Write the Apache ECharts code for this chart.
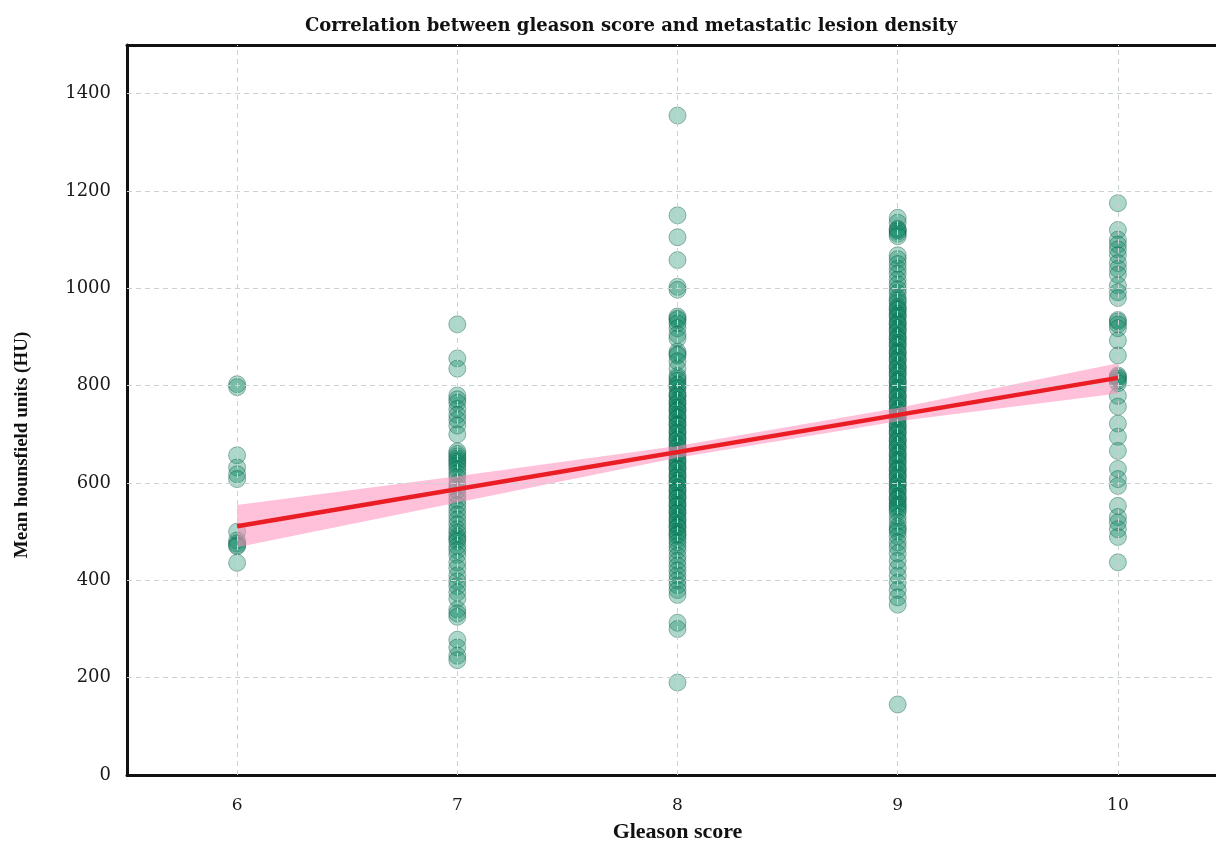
<!DOCTYPE html>
<html>
<head>
<meta charset="utf-8">
<title>Gleason score vs lesion density</title>
<script src="https://cdn.jsdelivr.net/npm/echarts@6/dist/echarts.min.js"></script>
<style>
  html, body { margin: 0; padding: 0; background: #fff; }
  #chart { width: 1216px; height: 843px; }
</style>
</head>
<body>
<div id="chart"></div>
<script>
// values, one list per gleason score
const g6 = [803, 797, 657, 632, 618, 608, 500, 482, 476, 472, 470, 436]
const g7 = [926, 856, 835, 780, 772, 765, 752, 740, 730, 718, 700, 665, 660, 655, 650, 645, 640, 635, 628, 620,
  612, 600, 592, 585, 575, 565, 555, 545, 535, 525, 515, 505, 498, 490, 485, 480, 470, 462, 452, 437,
  425, 410, 398, 388, 375, 362, 340, 332, 325, 278, 262, 245, 236]
const g8 = [1355, 1150, 1105, 1058, 1003, 997, 942, 938, 935, 928, 918, 905, 897, 870, 865, 862, 850, 835, 820, 815,
  810, 803, 800, 795, 785, 780, 778, 770, 765, 762, 755, 750, 748, 740, 735, 732, 725, 720, 718, 710,
  705, 702, 695, 690, 688, 680, 675, 672, 665, 660, 658, 650, 645, 642, 635, 630, 628, 620, 615, 612,
  605, 600, 598, 590, 585, 582, 575, 570, 568, 560, 555, 552, 545, 540, 538, 530, 525, 522, 515, 510,
  508, 500, 495, 492, 485, 478, 470, 462, 450, 440, 430, 420, 410, 400, 390, 380, 370, 313, 300, 190]
const g9 = [1145, 1135, 1122, 1120, 1117, 1112, 1107, 1068, 1060, 1050, 1040, 1030, 1018, 1008, 998, 990, 980, 975, 970, 962,
  958, 955, 948, 944, 940, 932, 928, 925, 918, 914, 910, 902, 898, 895, 888, 884, 880, 872, 868, 865,
  858, 854, 850, 842, 838, 835, 828, 824, 820, 812, 808, 805, 798, 794, 790, 782, 778, 775, 768, 764,
  760, 752, 748, 745, 738, 734, 730, 722, 718, 715, 708, 704, 700, 692, 688, 685, 678, 674, 670, 662,
  658, 655, 648, 644, 640, 632, 628, 625, 618, 614, 610, 602, 598, 595, 588, 584, 580, 572, 568, 565,
  558, 554, 550, 545, 540, 530, 520, 510, 505, 500, 490, 478, 468, 455, 440, 425, 410, 395, 380, 365,
  350, 145]
const g10 = [1175, 1120, 1100, 1090, 1080, 1068, 1052, 1040, 1028, 1006, 992, 980, 935, 932, 926, 918, 893, 862, 821, 818,
  815, 810, 805, 779, 757, 722, 695, 666, 629, 608, 594, 553, 530, 519, 505, 489, 437]

const scores = [6, 7, 8, 9, 10]
const groups = [g6, g7, g8, g9, g10]
const yTicks = [200, 400, 600, 800, 1000, 1200, 1400]
const yLabels = [0, 200, 400, 600, 800, 1000, 1200, 1400]

// regression line and its confidence band
const fitX = [6, 10]
const fitY = [511, 816]
const bandX = [6, 7, 8, 9, 10]
const bandLow = [468, 560, 652, 727, 784]
const bandHigh = [555, 614, 676, 754, 846]

const points = []
groups.forEach((g, i) => g.forEach(v => points.push([scores[i], v])))

const serifFont = "'Liberation Serif', 'DejaVu Serif', serif"
const labelFont = "'DejaVu Serif', serif"
const frame = { show: true, lineStyle: { color: "#111", width: 3 } }
const dash = { type: [5, 4], color: "#c9d3cf", width: 1 }

const chart = echarts.init(document.getElementById("chart"))
chart.setOption({
  animation: false,
  backgroundColor: "#fff",
  title: {
    text: "Correlation between gleason score and metastatic lesion density",
    left: 300,
    top: 12,
    textStyle: { fontFamily: labelFont, fontWeight: "bold", fontSize: 18, color: "#111" }
  },
  grid: {
    left: 127, top: 45, width: 1101, height: 730,
    outerBoundsMode: "none",
    containLabel: false
  },
  graphic: [{
    type: "text",
    x: 22, y: 445,
    rotation: Math.PI / 2,
    style: {
      text: "Mean hounsfield units (HU)",
      fontFamily: serifFont, fontWeight: "bold", fontSize: 19, fill: "#111",
      align: "center", verticalAlign: "middle"
    }
  }],
  xAxis: [{
    type: "value",
    min: 5.5, max: 10.5, interval: 0.5,
    name: "Gleason score",
    nameLocation: "middle",
    nameGap: 46,
    nameTextStyle: { fontFamily: serifFont, fontWeight: "bold", fontSize: 22, color: "#111" },
    axisLine: frame,
    axisTick: { show: false },
    splitLine: { show: false },
    axisLabel: {
      margin: 22,
      fontFamily: labelFont, fontSize: 17, color: "#1a1a1a",
      formatter: v => (scores.indexOf(v) >= 0 ? String(v) : "")
    }
  }, {
    // top edge of the frame
    type: "value",
    position: "top",
    min: 5.5, max: 10.5,
    axisLine: frame,
    axisTick: { show: false },
    axisLabel: { show: false },
    splitLine: { show: false }
  }],
  yAxis: {
    type: "value",
    min: 0, max: 1500, interval: 200,
    axisLine: frame,
    axisTick: { show: false },
    splitLine: { show: false },
    axisLabel: {
      margin: 16,
      fontFamily: labelFont, fontSize: 18, color: "#1a1a1a",
      formatter: v => (yLabels.indexOf(v) >= 0 ? String(v) : "")
    }
  },
  series: [
    {
      // dashed grid lines at the ticks
      type: "line",
      data: [],
      silent: true,
      markLine: {
        silent: true,
        symbol: "none",
        label: { show: false },
        lineStyle: dash,
        data: scores.map(s => ({ xAxis: s })).concat(yTicks.map(t => ({ yAxis: t })))
      }
    },
    {
      type: "scatter",
      data: points,
      symbolSize: 17,
      z: 3,
      itemStyle: {
        color: "rgba(15, 135, 100, 0.42)",
        borderColor: "rgba(10, 85, 65, 0.5)",
        borderWidth: 1
      }
    },
    {
      // confidence band drawn as one polygon through the axis scales
      type: "custom",
      data: [0],
      z: 4,
      silent: true,
      renderItem: (params, api) => {
        const upper = bandX.map((x, i) => api.coord([x, bandHigh[i]]))
        const lower = bandX.map((x, i) => api.coord([x, bandLow[i]])).reverse()
        return {
          type: "polygon",
          shape: { points: upper.concat(lower) },
          style: { fill: "rgba(255, 140, 185, 0.55)" }
        }
      }
    },
    {
      type: "line",
      data: fitX.map((x, i) => [x, fitY[i]]),
      symbol: "none",
      lineStyle: { color: "#ea1c24", width: 4.5 },
      z: 5
    }
  ]
})
</script>
</body>
</html>
